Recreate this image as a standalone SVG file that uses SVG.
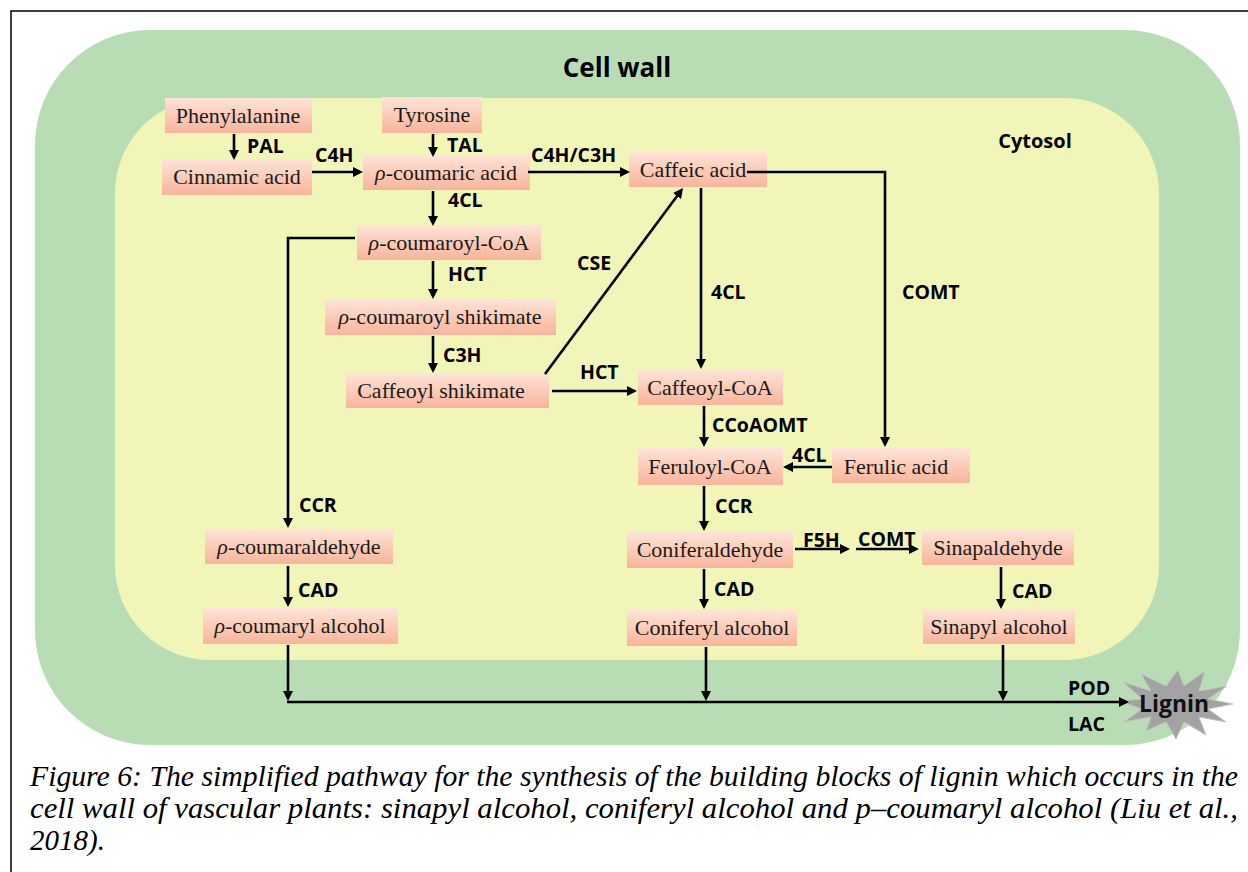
<svg xmlns="http://www.w3.org/2000/svg" width="1248" height="872" viewBox="0 0 1248 872">
<defs>
<linearGradient id="ng" x1="0" y1="0" x2="0" y2="1">
<stop offset="0" stop-color="#fde4d8"/>
<stop offset="1" stop-color="#f8b49b"/>
</linearGradient>
<marker id="ah" viewBox="0 0 10 10" refX="7" refY="5" markerWidth="10" markerHeight="10" markerUnits="userSpaceOnUse" orient="auto">
<path d="M0,0 L10,5 L0,10 z" fill="#000"/>
</marker>
<style>
.box{fill:url(#ng);}
.nt{font-family:"Liberation Serif","Times New Roman",serif;font-size:22px;fill:#1a1a1a;text-anchor:middle;}
.en{font-family:"Open Sans","Noto Sans",sans-serif;font-weight:bold;font-size:19.5px;fill:#000;}
.cn{fill:none;stroke:#000;stroke-width:2.6;marker-end:url(#ah);}
.cap{font-family:"Liberation Serif","Times New Roman",serif;font-style:italic;font-size:29px;fill:#000;}
</style>
</defs>
<rect x="0" y="0" width="1248" height="872" fill="#fff"/>
<rect x="11" y="11" width="1260" height="900" fill="none" stroke="#000" stroke-width="1.5"/>
<g id="cellwall">
<rect x="35" y="30" width="1205" height="715" rx="115" ry="115" fill="#b8ddb4"/>
<text x="617" y="77" text-anchor="middle" font-family="'Open Sans','Noto Sans',sans-serif" font-weight="bold" font-size="26" fill="#000">Cell wall</text>
</g>
<g id="cytosol">
<rect x="115" y="98" width="1044" height="562" rx="95" ry="95" fill="#f1f6b8"/>
<text x="1035" y="148" text-anchor="middle" font-family="'Open Sans','Noto Sans',sans-serif" font-weight="bold" font-size="20" fill="#000">Cytosol</text>
</g>
<g id="n-phenylalanine"><rect class="box" x="165" y="98" width="147" height="35"/><text class="nt" x="238" y="123">Phenylalanine</text></g>
<g id="n-tyrosine"><rect class="box" x="382" y="97" width="100" height="36"/><text class="nt" x="432" y="122">Tyrosine</text></g>
<g id="n-cinnamic"><rect class="box" x="162" y="159" width="150" height="36"/><text class="nt" x="237" y="184">Cinnamic acid</text></g>
<g id="n-pcoumaric"><rect class="box" x="363" y="155" width="167" height="35"/><text class="nt" x="446" y="180"><tspan font-style="italic">ρ</tspan>-coumaric acid</text></g>
<g id="n-caffeic"><rect class="box" x="629" y="152" width="138" height="35"/><text class="nt" x="693" y="177">Caffeic acid</text></g>
<g id="n-pcoumaroylcoa"><rect class="box" x="357" y="225" width="184" height="35"/><text class="nt" x="449" y="250"><tspan font-style="italic">ρ</tspan>-coumaroyl-CoA</text></g>
<g id="n-pcoumaroylshik"><rect class="box" x="325" y="299" width="231" height="36"/><text class="nt" x="440" y="324"><tspan font-style="italic">ρ</tspan>-coumaroyl shikimate</text></g>
<g id="n-caffeoylshik"><rect class="box" x="346" y="373" width="203" height="35"/><text class="nt" x="441" y="398">Caffeoyl shikimate</text></g>
<g id="n-caffeoylcoa"><rect class="box" x="638" y="370" width="145" height="35"/><text class="nt" x="710" y="395">Caffeoyl-CoA</text></g>
<g id="n-feruloylcoa"><rect class="box" x="638" y="448" width="145" height="37"/><text class="nt" x="710" y="474">Feruloyl-CoA</text></g>
<g id="n-ferulic"><rect class="box" x="832" y="448" width="138" height="35"/><text class="nt" x="896" y="474">Ferulic acid</text></g>
<g id="n-coniferaldehyde"><rect class="box" x="627" y="532" width="166" height="36"/><text class="nt" x="710" y="557">Coniferaldehyde</text></g>
<g id="n-sinapaldehyde"><rect class="box" x="922" y="530" width="152" height="35"/><text class="nt" x="998" y="555">Sinapaldehyde</text></g>
<g id="n-pcoumaraldehyde"><rect class="box" x="205" y="529" width="188" height="35"/><text class="nt" x="299" y="554"><tspan font-style="italic">ρ</tspan>-coumaraldehyde</text></g>
<g id="n-pcoumarylalc"><rect class="box" x="203" y="608" width="195" height="36"/><text class="nt" x="300" y="633"><tspan font-style="italic">ρ</tspan>-coumaryl alcohol</text></g>
<g id="n-coniferylalc"><rect class="box" x="627" y="610" width="170" height="36"/><text class="nt" x="712" y="635">Coniferyl alcohol</text></g>
<g id="n-sinapylalc"><rect class="box" x="923" y="609" width="152" height="35"/><text class="nt" x="999" y="634">Sinapyl alcohol</text></g>
<g id="n-lignin">
<polygon points="1233,704 1208,709 1226,722 1199,717 1206,735 1184,722 1176,739 1166,722 1146,731 1151,717 1124,722 1142,709 1119,701 1142,699 1123,682 1151,691 1141,674 1166,686 1178,670 1184,686 1205,671 1199,691 1227,686 1208,699" fill="#a3a3a3" stroke="#c4c4c4" stroke-width="1"/>
<text x="1174" y="712" text-anchor="middle" font-family="'Open Sans','Noto Sans',sans-serif" font-weight="bold" font-size="24" textLength="70" lengthAdjust="spacingAndGlyphs" fill="#111">Lignin</text>
</g>
<g id="connectors">
<path class="cn" d="M234,134 V157"/>
<path class="cn" d="M433,134 V154"/>
<path class="cn" d="M312,172 H360"/>
<path class="cn" d="M528,172 H627"/>
<path class="cn" d="M433,191 V223"/>
<path class="cn" d="M433,261 V296"/>
<path class="cn" d="M433,336 V370"/>
<path class="cn" d="M545,374 L681.2,190.4"/>
<path class="cn" d="M552,391 H634"/>
<path class="cn" d="M701,188 V366"/>
<path class="cn" d="M747,172 H885 V444"/>
<path class="cn" d="M704,406 V444"/>
<path class="cn" d="M832,467 H786"/>
<path class="cn" d="M355,238 H288 V525"/>
<path class="cn" d="M704,486 V528"/>
<path class="cn" d="M795,549 H847"/>
<path class="cn" d="M856,549 H916"/>
<path class="cn" d="M288,566 V604"/>
<path class="cn" d="M704,569 V606"/>
<path class="cn" d="M1001,567 V606"/>
<path class="cn" d="M288,645 V698"/>
<path class="cn" d="M706,647 V698"/>
<path class="cn" d="M1003,645 V698"/>
<path class="cn" d="M287,702 H1126"/>
</g>
<g id="labels">
<text class="en" x="247" y="153">PAL</text>
<text class="en" x="447" y="152">TAL</text>
<text class="en" x="315" y="162">C4H</text>
<text class="en" x="531" y="162">C4H/C3H</text>
<text class="en" x="448" y="207">4CL</text>
<text class="en" x="448" y="281">HCT</text>
<text class="en" x="443" y="362">C3H</text>
<text class="en" x="577" y="270">CSE</text>
<text class="en" x="580" y="379">HCT</text>
<text class="en" x="711" y="299">4CL</text>
<text class="en" x="902" y="299">COMT</text>
<text class="en" x="712" y="432">CCoAOMT</text>
<text class="en" x="792" y="462">4CL</text>
<text class="en" x="715" y="513">CCR</text>
<text class="en" x="299" y="512">CCR</text>
<text class="en" x="803" y="547">F5H</text>
<text class="en" x="858" y="546">COMT</text>
<text class="en" x="298" y="597">CAD</text>
<text class="en" x="714" y="596">CAD</text>
<text class="en" x="1012" y="598">CAD</text>
<text class="en" x="1068" y="695">POD</text>
<text class="en" x="1068" y="731">LAC</text>
</g>
<g id="caption">
<text class="cap" x="30" y="786" textLength="1208" lengthAdjust="spacingAndGlyphs">Figure 6: The simplified pathway for the synthesis of the building blocks of lignin which occurs in the</text>
<text class="cap" x="30" y="818" textLength="1208" lengthAdjust="spacingAndGlyphs">cell wall of vascular plants: sinapyl alcohol, coniferyl alcohol and p–coumaryl alcohol (Liu et al.,</text>
<text class="cap" x="30" y="850">2018).</text>
</g>
</svg>
